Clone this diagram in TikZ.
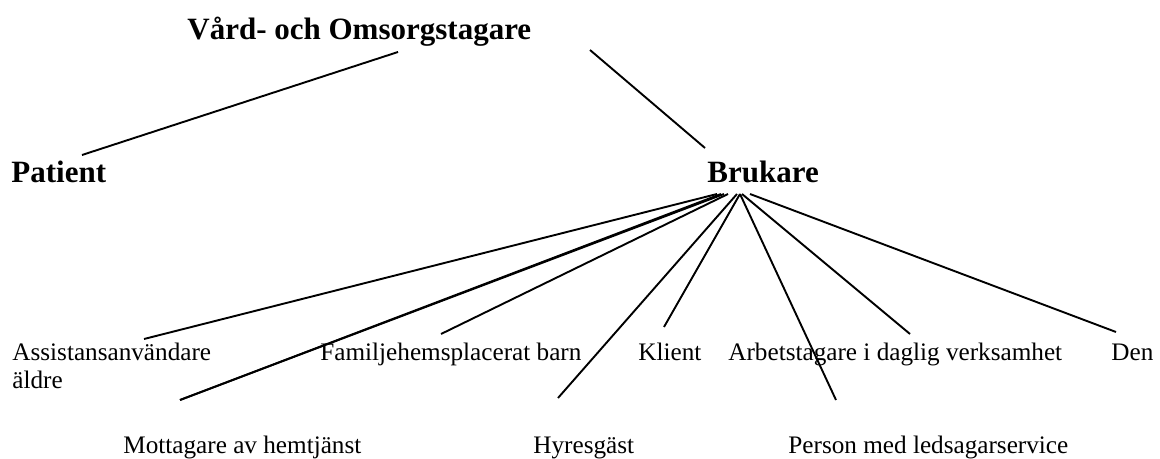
\documentclass[tikz,border=0pt]{standalone}
\usepackage{fontspec}
\setmainfont{Liberation Serif}
\tikzstyle{head} = [inner sep=0,anchor=base west,font=\fontsize{15.5}{18}\selectfont\bfseries]
\tikzstyle{leaf} = [inner sep=0,anchor=base west,font=\fontsize{12.6}{14}\selectfont]
\tikzstyle{branch} = [-,line width=0.95pt]

\begin{document}
\begin{tikzpicture}[x=0.5pt,y=-0.5pt]
  \useasboundingbox (0,0) rectangle (1160,459);
  % upper level
  \node[head] (vard) at (187,40) {Vård- och Omsorgstagare};
  \node[head] (pat) at (11,183) {Patient};
  \node[head] (bru) at (707,183) {Brukare};
  \draw[branch] ([shift={(211,12)}]vard.base west) -- ([shift={(71,-28)}]pat.base west);
  \draw[branch] ([shift={(403,10)}]vard.base west) -- ([shift={(-2,-35)}]bru.base west);
  % kinds of Brukare
  \node[leaf,anchor=north west,align=left] (asst) at (12,343) {Assistansanvändare\\äldre};
  \node[leaf] (fam) at (320,360) {Familjehemsplacerat barn};
  \node[leaf] (kli) at (638,360) {Klient};
  \node[leaf] (arb) at (728,360) {Arbetstagare i daglig verksamhet};
  \node[leaf] (den) at (1111,360) {Den};
  \node[leaf] (mott) at (123,453) {Mottagare av hemtjänst};
  \node[leaf] (hyr) at (533,453) {Hyresgäst};
  \node[leaf] (pers) at (788,453) {Person med ledsagarservice};
  \draw[branch] ([shift={(10,11)}]bru.base west) -- ([shift={(132,-4)}]asst.north west);
  \draw[branch] ([shift={(14,11)}]bru.base west) -- ([shift={(57,-53)}]mott.base west);
  \draw[branch] ([shift={(17,11)}]bru.base west) -- ([shift={(57,-53)}]mott.base west);
  \draw[branch] ([shift={(21,11)}]bru.base west) -- ([shift={(121,-26)}]fam.base west);
  \draw[branch] ([shift={(30,11)}]bru.base west) -- ([shift={(25,-55)}]hyr.base west);
  \draw[branch] ([shift={(33,11)}]bru.base west) -- ([shift={(26,-33)}]kli.base west);
  \draw[branch] ([shift={(33,11)}]bru.base west) -- ([shift={(48,-53)}]pers.base west);
  \draw[branch] ([shift={(35,11)}]bru.base west) -- ([shift={(182,-26)}]arb.base west);
  \draw[branch] ([shift={(43,11)}]bru.base west) -- ([shift={(5,-28)}]den.base west);
\end{tikzpicture}
\end{document}
